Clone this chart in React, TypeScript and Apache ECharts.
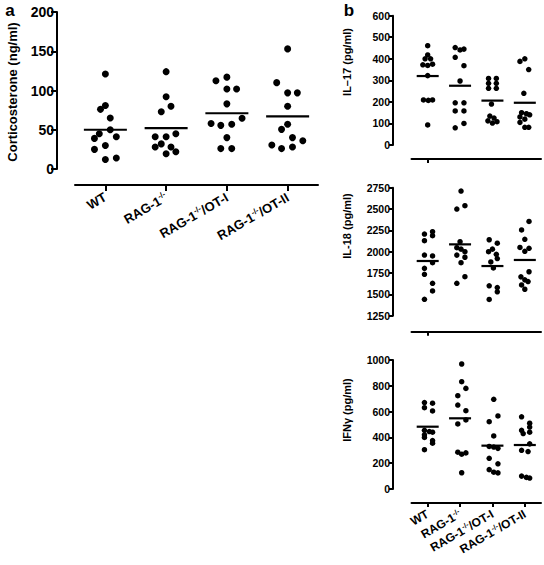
import React, { useEffect, useRef } from "react";
import * as echarts from "echarts";

// ---------- data ----------
const categories = ["WT", "RAG-1-/-", "RAG-1-/-/OT-I", "RAG-1-/-/OT-II"];

// Panel a: corticosterone (ng/ml)
const cortValues = [
  [121, 81, 76, 65, 50, 45, 41, 39, 30, 25, 14, 12],
  [124, 92, 80, 73, 45, 41, 41, 32, 28, 28, 22, 19.5],
  [117, 112.5, 102, 102, 83, 64.6, 58, 57, 55.6, 40, 26, 26],
  [153, 110, 97, 97, 80, 57, 50.5, 40, 36, 30.6, 28, 26],
];
const cortJitter = [
  [0, 0, -0.08, 0.08, 0.08, -0.1, 0.18, -0.18, 0, -0.18, 0.18, 0],
  [0, 0, 0.08, -0.08, 0.16, -0.18, 0, -0.08, -0.18, 0.08, 0.16, 0],
  [0, -0.18, 0, 0.16, 0, 0.25, -0.26, 0.08, -0.1, 0, -0.1, 0.08],
  [0, -0.18, 0, 0.16, 0, 0, -0.1, 0.08, 0.25, -0.26, 0.08, -0.1],
];
const cortMeans = [50, 52, 71, 67];

// Panel b: IL-17 (pg/ml)
const il17Values = [
  [461, 418, 400, 400, 372, 369, 375, 322, 209, 207, 209, 93],
  [452, 441, 445, 407, 368, 297, 196, 196, 158, 158, 100, 80],
  [309, 309, 286, 286, 263, 263, 190, 134, 125, 112, 102, 108],
  [388, 400, 350, 240, 150, 145, 140, 130, 120, 105, 82, 82],
];
const il17Jitter = [
  [0, 0, -0.08, 0.09, -0.15, 0, 0.15, 0, -0.13, 0.02, 0.15, 0],
  [-0.15, 0, 0.12, -0.15, 0.12, 0, -0.15, 0.12, -0.15, 0.12, 0.12, -0.15],
  [-0.12, 0.12, -0.12, 0.12, -0.12, 0.12, -0.03, -0.08, 0.05, -0.14, 0, 0.14],
  [-0.15, 0, 0.12, -0.03, -0.1, 0.05, 0.15, -0.15, 0, -0.15, 0, 0.12],
];
const il17Means = [320, 275, 206, 196];

// Panel b: IL-18 (pg/ml)
const il18Values = [
  [2207, 2234, 2187, 2129, 1961, 1950, 1871, 1805, 1735, 1630, 1540, 1442],
  [2711, 2539, 2500, 2117, 2047, 2030, 2000, 1960, 1935, 1871, 1707, 1630],
  [2140, 2100, 2030, 2000, 1970, 1920, 1880, 1810, 1600, 1580, 1530, 1440],
  [2355, 2255, 2145, 2050, 2040, 2005, 1765, 1705, 1670, 1650, 1610, 1560],
];
const il18Jitter = [
  [-0.1, 0.15, 0.15, -0.1, -0.1, 0.15, 0.15, -0.1, -0.1, 0.15, 0.15, -0.1],
  [0.03, 0.15, -0.1, 0, -0.1, 0.03, 0.15, -0.1, 0.15, 0.03, 0.15, -0.1],
  [-0.1, 0.15, 0, -0.12, 0.12, 0.15, -0.05, 0.03, -0.1, 0.15, 0.15, -0.1],
  [0.13, -0.1, 0, -0.15, 0.13, 0, 0.13, -0.12, 0, 0.1, -0.1, 0],
];
const il18Means = [1891, 2086, 1832, 1903];

// Panel b: IFN-gamma (pg/ml)
const ifnValues = [
  [670, 665, 630, 605, 455, 445, 440, 420, 400, 375, 355, 305],
  [969, 832, 780, 723, 651, 607, 535, 504, 285, 270, 280, 126],
  [695, 566, 522, 411, 330, 325, 315, 238, 195, 150, 130, 125],
  [560, 510, 480, 455, 440, 430, 350, 300, 290, 100, 90, 85],
];
const ifnJitter = [
  [-0.1, 0.15, -0.1, 0.15, -0.1, 0.05, 0.15, -0.1, -0.1, 0.15, 0.15, -0.1],
  [0.05, 0.05, 0.18, -0.07, -0.07, 0.18, 0.18, -0.07, -0.07, 0.05, 0.18, 0.05],
  [0.04, 0.17, -0.1, 0.04, -0.1, 0.04, 0.17, -0.1, 0.17, -0.1, 0.04, 0.17],
  [-0.1, 0.15, 0.15, -0.1, 0.15, -0.05, 0.15, -0.1, 0.1, -0.1, 0.05, 0.15],
];
const ifnMeans = [483, 548, 336, 341];

const yNames = ["Corticosterone (ng/ml)", "IL–17 (pg/ml)", "IL-18 (pg/ml)", "IFNγ (pg/ml)"];

// ---------- style ----------
const FONT = "'Liberation Sans', Arial, Helvetica, sans-serif";
const BLACK = "#000";

type Panel = {
  values: number[][];
  jitter: number[][];
  means: number[];
  min: number;
  max: number;
  interval: number;
  grid: { left: number; top: number; width: number; height: number };
  xOffset: number;
  yOffset: number;
  showX: boolean;
  tickFont: number;
  xFont: number;
  xMargin: number;
  dot: number;
  meanW: number;
  tickLen: number;
};

const panels: Panel[] = [
  {
    values: cortValues, jitter: cortJitter, means: cortMeans,
    min: 0, max: 200, interval: 50,
    grid: { left: 75, top: 12, width: 243, height: 157 },
    xOffset: 16, yOffset: 18, showX: true, tickFont: 14, xFont: 13, xMargin: 11,
    dot: 7, meanW: 43, tickLen: 6,
  },
  {
    values: il17Values, jitter: il17Jitter, means: il17Means,
    min: 0, max: 600, interval: 100,
    grid: { left: 411.5, top: 15.7, width: 129.5, height: 129.3 },
    xOffset: 14, yOffset: 18.5, showX: false, tickFont: 10.5, xFont: 12, xMargin: 10,
    dot: 5.5, meanW: 22, tickLen: 4,
  },
  {
    values: il18Values, jitter: il18Jitter, means: il18Means,
    min: 1250, max: 2750, interval: 250,
    grid: { left: 411.5, top: 187.7, width: 129.5, height: 128 },
    xOffset: 16, yOffset: 18.5, showX: false, tickFont: 10.5, xFont: 12, xMargin: 10,
    dot: 5.5, meanW: 22, tickLen: 4,
  },
  {
    values: ifnValues, jitter: ifnJitter, means: ifnMeans,
    min: 0, max: 1000, interval: 200,
    grid: { left: 411.5, top: 360, width: 129.5, height: 129 },
    xOffset: 14, yOffset: 18.5, showX: true, tickFont: 10.5, xFont: 12, xMargin: 10,
    dot: 5.5, meanW: 22, tickLen: 4,
  },
];

function catFormatter(v: string) {
  const parts = v.split("-/-");
  return parts.map((p) => (p ? `{m|${p}}` : "")).join("{s|-/-}");
}

function buildOption() {
  const grid: any[] = [];
  const xAxis: any[] = [];
  const yAxis: any[] = [];
  const series: any[] = [];

  panels.forEach((p, g) => {
    grid.push({ ...p.grid, containLabel: false });
    xAxis.push({
      type: "category",
      gridIndex: g,
      data: categories,
      position: "bottom",
      offset: p.xOffset,
      axisLine: { show: true, onZero: false, lineStyle: { color: BLACK, width: 2 } },
      axisTick: { show: true, alignWithLabel: true, length: p.tickLen, lineStyle: { color: BLACK, width: 2 } },
      axisLabel: p.showX
        ? {
            show: true,
            rotate: 30,
            margin: p.xMargin,
            interval: 0,
            color: BLACK,
            formatter: catFormatter,
            rich: {
              m: { fontSize: p.xFont, fontWeight: "bold", fontFamily: FONT, color: BLACK, verticalAlign: "bottom" },
              s: { fontSize: p.xFont * 0.6, fontWeight: "bold", fontFamily: FONT, color: BLACK, verticalAlign: "bottom", padding: [0, 0, p.xFont * 0.45, 0] },
            },
          }
        : { show: false },
      splitLine: { show: false },
    });
    xAxis.push({
      type: "value",
      gridIndex: g,
      min: -0.5,
      max: 3.5,
      show: false,
      axisLine: { onZero: false },
    });
    yAxis.push({
      type: "value",
      gridIndex: g,
      min: p.min,
      max: p.max,
      interval: p.interval,
      offset: p.yOffset,
      position: "left",
      axisLine: { show: true, onZero: false, lineStyle: { color: BLACK, width: 2 } },
      axisTick: { show: true, length: p.tickLen, lineStyle: { color: BLACK, width: 2 } },
      axisLabel: {
        color: BLACK,
        fontSize: p.tickFont,
        fontWeight: "bold",
        fontFamily: FONT,
        margin: 3,
        formatter: (v: number) => String(v),
      },
      splitLine: { show: false },
    });

    const pts: number[][] = [];
    p.values.forEach((arr, i) => {
      arr.forEach((v, j) => pts.push([i + p.jitter[i][j], v]));
    });
    series.push({
      type: "scatter",
      xAxisIndex: 2 * g + 1,
      yAxisIndex: g,
      data: pts,
      symbol: "circle",
      symbolSize: p.dot,
      itemStyle: { color: BLACK, opacity: 1 },
      silent: true,
    });
    series.push({
      type: "scatter",
      xAxisIndex: 2 * g + 1,
      yAxisIndex: g,
      data: p.means.map((m, i) => [i, m]),
      symbol: "rect",
      symbolSize: [p.meanW, 2.2],
      itemStyle: { color: BLACK, opacity: 1 },
      silent: true,
      z: 3,
    });
  });

  const textStyle = (text: string, size: number) => ({
    text,
    fill: BLACK,
    font: `bold ${size}px ${FONT}`,
    align: "center",
    verticalAlign: "middle",
    textAlign: "center",
    textVerticalAlign: "middle",
  });

  const graphic: any[] = [
    { type: "text", x: 10, y: 10, style: textStyle("a", 17) },
    { type: "text", x: 349, y: 10, style: textStyle("b", 17) },
    { type: "text", x: 12, y: 92, rotation: Math.PI / 2, style: textStyle(yNames[0], 13) },
    { type: "text", x: 347, y: 62, rotation: Math.PI / 2, style: textStyle(yNames[1], 11) },
    { type: "text", x: 347, y: 226, rotation: Math.PI / 2, style: textStyle(yNames[2], 11) },
    { type: "text", x: 347, y: 410, rotation: Math.PI / 2, style: textStyle(yNames[3], 11) },
  ];

  return {
    animation: false,
    backgroundColor: "#fff",
    grid,
    xAxis,
    yAxis,
    series,
    graphic,
  };
}

export default function App() {
  const ref = useRef<HTMLDivElement>(null);
  useEffect(() => {
    if (!ref.current) return;
    const chart = echarts.init(ref.current, undefined, { renderer: "svg" });
    chart.setOption(buildOption() as any);
    return () => chart.dispose();
  }, []);
  return (
    <div
      ref={ref}
      style={{ position: "absolute", left: 0, top: 0, width: 544, height: 565, background: "#fff" }}
    />
  );
}
